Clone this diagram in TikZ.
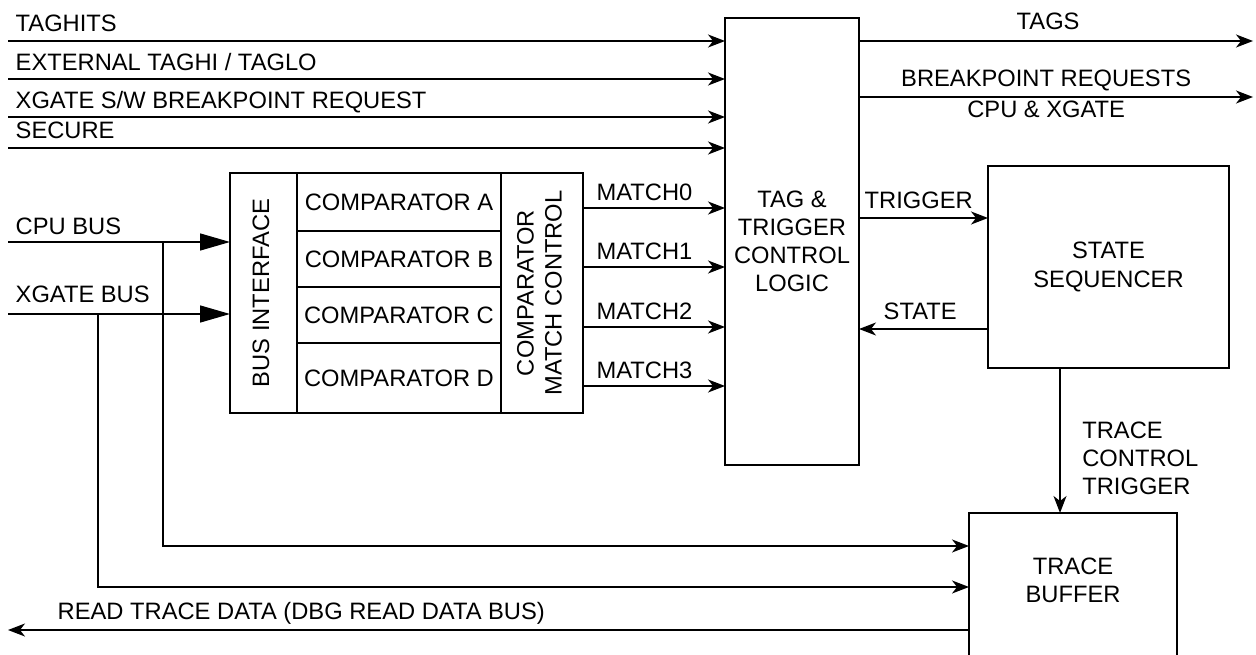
\documentclass[tikz,border=0pt]{standalone}
\usepackage{fontspec}
\setmainfont{Liberation Sans}
\usetikzlibrary{positioning, arrows.meta}
\newcommand{\diafont}{\fontsize{13.5}{16}\selectfont}
\newcommand{\vtext}[1]{\rotatebox{90}{\begin{tabular}{@{}c@{}}#1\end{tabular}}}

\begin{document}
\begin{tikzpicture}[
            x=0.02cm, y=-0.02cm, % pixel grid
            font=\diafont,
            block/.style={rectangle, draw, line width=0.8pt, inner sep=0pt, outer sep=0pt, align=center},
            sig/.style={line width=0.8pt, -{Stealth[length=3.4mm, width=2.6mm, inset=1mm]}},
            bus/.style={line width=0.8pt, -{Triangle[length=6mm, width=3.4mm]}},
            txt/.style={inner sep=0pt, align=center},
            siglbl/.style={inner sep=0pt, anchor=base west}
        ]
            \useasboundingbox (0,0) rectangle (1256,655);

            % main blocks
            \node[block, minimum width=2.68cm, minimum height=8.94cm] (tag) at (792,241.5) {TAG \&\\TRIGGER\\CONTROL\\LOGIC};
            \node[block, minimum width=4.82cm, minimum height=4.04cm] (seq) at (1108.5,267) {STATE\\SEQUENCER};
            \node[block, minimum width=4.16cm, minimum height=2.94cm, anchor=north] (tbuf) at (1073,513) {};
            \node[txt] (tbuftext) at (1073,580) {TRACE\\BUFFER};

            % comparator bank
            \node[block, minimum width=1.34cm, minimum height=4.8cm] (busif) at (263.5,293) {\vtext{BUS INTERFACE}};
            \node[block, minimum width=4.08cm, minimum height=1.16cm, anchor=north west] (cmpa) at (busif.north east) {COMPARATOR A};
            \node[block, minimum width=4.08cm, minimum height=1.12cm, below=0pt of cmpa] (cmpb) {COMPARATOR B};
            \node[block, minimum width=4.08cm, minimum height=1.12cm, below=0pt of cmpb] (cmpc) {COMPARATOR C};
            \node[block, minimum width=4.08cm, minimum height=1.4cm, below=0pt of cmpc] (cmpd) {COMPARATOR D};
            \node[block, minimum width=1.64cm, minimum height=4.8cm, anchor=north west] (cmc) at (cmpa.north east) {\vtext{COMPARATOR\\MATCH CONTROL}};

            % free ends
            \coordinate (taghitsin) at (8,41);
            \coordinate (extin) at (8,79);
            \coordinate (swbrkin) at (8,117);
            \coordinate (securein) at (8,148);
            \coordinate (cpuin) at (8,242);
            \coordinate (xgin) at (8,314);
            \coordinate (cpubr) at (163,242);
            \coordinate (xgbr) at (98,314);
            \coordinate (tagsout) at (1253,41);
            \coordinate (brkout) at (1253,97);
            \coordinate (rdout) at (8,630);

            % inputs to tag logic
            \draw[sig] (taghitsin) node[siglbl, xshift=0.14cm, yshift=0.18cm] {TAGHITS} -- (tag.west |- taghitsin);
            \draw[sig] (extin) node[siglbl, xshift=0.14cm, yshift=0.18cm] {EXTERNAL TAGHI / TAGLO} -- (tag.west |- extin);
            \draw[sig] (swbrkin) node[siglbl, xshift=0.14cm, yshift=0.18cm] {XGATE S/W BREAKPOINT REQUEST} -- (tag.west |- swbrkin);
            \draw[sig] (securein) node[siglbl, xshift=0.14cm, yshift=0.2cm] {SECURE} -- (tag.west |- securein);

            % buses
            \draw[bus] (cpuin) node[siglbl, xshift=0.14cm, yshift=0.15cm] {CPU BUS} -- (busif.west |- cpuin);
            \draw[bus] (xgin) node[siglbl, xshift=0.14cm, yshift=0.24cm] {XGATE BUS} -- (busif.west |- xgin);
            \draw[sig] (cpubr) |- (tbuf.west |- 0,546);
            \draw[sig] (xgbr) |- (tbuf.west |- 0,587);
            \draw[sig] (tbuf.west |- rdout) -- (rdout) node[siglbl, xshift=0.98cm, yshift=0.22cm] {READ TRACE DATA (DBG READ DATA BUS)};

            % match signals
            \draw[sig] (cmc.east |- 0,208) -- (tag.west |- 0,208) node[pos=0, siglbl, xshift=0.26cm, yshift=0.16cm] {MATCH0};
            \draw[sig] (cmc.east |- 0,267) -- (tag.west |- 0,267) node[pos=0, siglbl, xshift=0.26cm, yshift=0.16cm] {MATCH1};
            \draw[sig] (cmc.east |- 0,327) -- (tag.west |- 0,327) node[pos=0, siglbl, xshift=0.26cm, yshift=0.16cm] {MATCH2};
            \draw[sig] (cmc.east |- 0,386) -- (tag.west |- 0,386) node[pos=0, siglbl, xshift=0.26cm, yshift=0.16cm] {MATCH3};

            % outputs
            \draw[sig] (tag.east |- tagsout) -- (tagsout) node[pos=0.48, anchor=base, inner sep=0pt, yshift=0.22cm] {TAGS};
            \draw[sig] (tag.east |- brkout) -- (brkout)
                node[pos=0.475, anchor=base, inner sep=0pt, yshift=0.2cm] {BREAKPOINT REQUESTS}
                node[pos=0.475, anchor=base, inner sep=0pt, yshift=-0.42cm] {CPU \& XGATE};

            % sequencer links
            \draw[sig] (tag.east |- 0,218) -- (seq.west |- 0,218) node[pos=0, siglbl, xshift=0.1cm, yshift=0.2cm] {TRIGGER};
            \draw[sig] (seq.west |- 0,329) -- (tag.east |- 0,329) node[pos=1, siglbl, xshift=0.48cm, yshift=0.2cm] {STATE};
            \draw[sig] (seq.south -| 1060,0) -- (tbuf.north -| 1060,0);
            \node[txt, align=left, anchor=west] (tracelbl) at (1082,458) {TRACE\\CONTROL\\TRIGGER};
        \end{tikzpicture}
\end{document}
